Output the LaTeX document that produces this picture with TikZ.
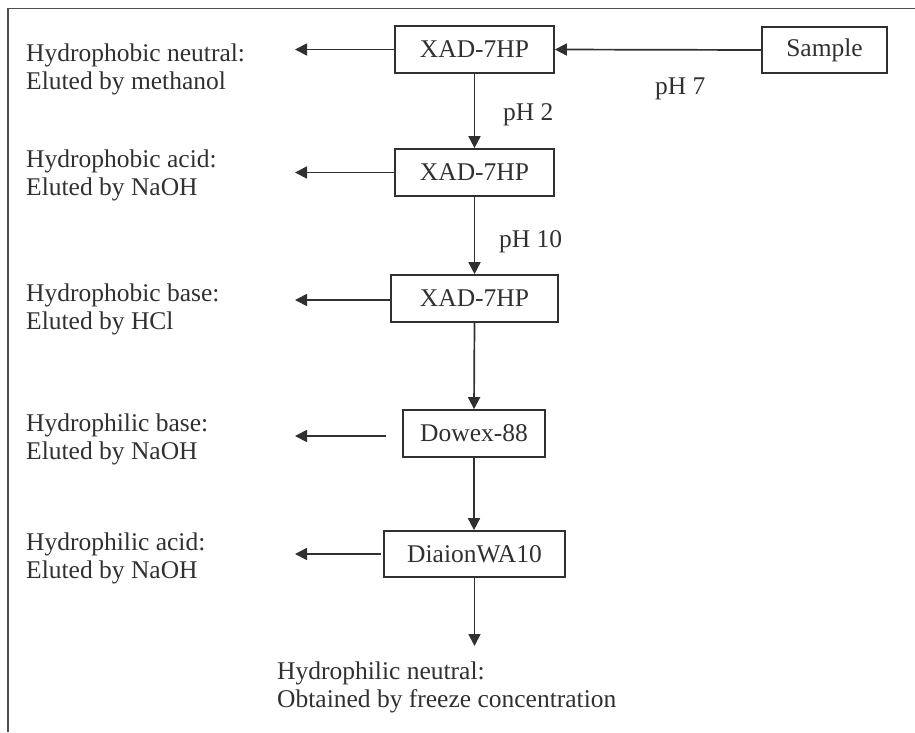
\documentclass[tikz,border=0pt]{standalone}
\usepackage{fontspec}
\setmainfont{Liberation Serif}
\usetikzlibrary{arrows.meta}
\definecolor{ink}{HTML}{303030}
\tikzset{
  every node/.style={font=\fontsize{25.5}{28}\selectfont, text=ink},
  box/.style={draw=ink, line width=1.7pt, minimum height=47pt, inner sep=0pt},
  lbl/.style={anchor=base west, align=left, inner sep=0pt},
  flow/.style={draw=ink, line width=1.7pt, -{Triangle[length=12pt,width=12pt]}},
  frame/.style={draw=ink!85, line width=1.7pt}
}
\begin{document}
\begin{tikzpicture}[x=1pt,y=-1pt]
\useasboundingbox (0,0) rectangle (915,732);
% frame
\coordinate (fl) at (8,732);
\coordinate (ftl) at (8,8.5);
\coordinate (ftr) at (915,8.5);
\draw[frame] (fl) -- (ftl) -- (ftr);
% boxes
\node[box, minimum width=159pt] (x1) at (474.5,49.5) {XAD-7HP};
\node[box, minimum width=125pt, minimum height=46pt] (s) at (824.5,50) {Sample};
\node[box, minimum width=159pt] (x2) at (474.5,172.5) {XAD-7HP};
\node[box, minimum width=167pt] (x3) at (474.5,298.5) {XAD-7HP};
\node[box, minimum width=142pt] (d) at (474,433.5) {Dowex-88};
\node[box, minimum width=181pt, minimum height=46pt] (w) at (474.5,554) {DiaionWA10};
% left labels (base = last line's baseline)
\node[lbl] (t1) at (26,89) {Hydrophobic neutral:\\Eluted by methanol};
\node[lbl] (t2) at (26,195) {Hydrophobic acid:\\Eluted by NaOH};
\node[lbl] (t3) at (26,329) {Hydrophobic base:\\Eluted by HCl};
\node[lbl] (t4) at (26,459) {Hydrophilic base:\\Eluted by NaOH};
\node[lbl] (t5) at (26,578) {Hydrophilic acid:\\Eluted by NaOH};
\node[lbl] (t6) at (277,707) {Hydrophilic neutral:\\Obtained by freeze concentration};
% pH labels
\node[lbl] (p7) at (655,94) {pH 7};
\node[lbl] (p2) at (503,120) {pH 2};
\node[lbl] (p10) at (499,247) {pH 10};
% arrow ends
\coordinate (e1) at (295,49.5);
\coordinate (e2) at (295,172.5);
\coordinate (e3) at (295,300);
\coordinate (s4) at (386,436);
\coordinate (e4) at (295,436);
\coordinate (s5) at (381,554);
\coordinate (e5) at (295,554);
\coordinate (e6) at (474.5,646);
% connectors
\draw[flow] (s.west) -- (x1.east);
\draw[flow] (x1.west) -- (e1);
\draw[flow] (x1.south) -- (x2.north);
\draw[flow] (x2.west) -- (e2);
\draw[flow] (x2.south) -- (x3.north);
\draw[flow] (x3.west |- e3) -- (e3);
\draw[flow] (x3.south) -- (d.north);
\draw[flow] (s4) -- (e4);
\draw[flow] (d.south) -- (d.south |- w.north);
\draw[flow] (s5) -- (e5);
\draw[flow] (w.south) -- (e6);
\end{tikzpicture}
\end{document}
